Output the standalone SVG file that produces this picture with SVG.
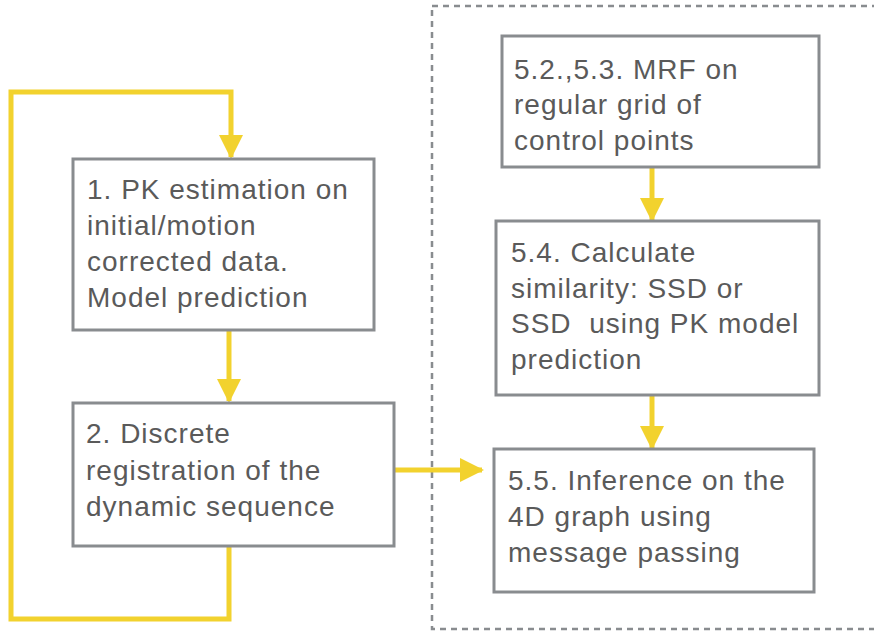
<svg xmlns="http://www.w3.org/2000/svg" width="874" height="634" viewBox="0 0 874 634">
  <style>
    .box { fill: #ffffff; stroke: #898c8f; stroke-width: 3; }
    .lbl { font-family: "Liberation Sans", Arial, sans-serif; font-size: 28px; fill: #5a5a5a; letter-spacing: 1px; }
    .flow { fill: none; stroke: #f2d22e; stroke-width: 5; }
    .frame { fill: none; stroke: #898c8f; stroke-width: 2.5; stroke-dasharray: 6 5; }
  </style>
  <defs>
    <marker id="head" markerUnits="userSpaceOnUse" markerWidth="24" markerHeight="24" refX="22" refY="12" orient="auto">
      <path d="M0,0 L24,12 L0,24 Z" fill="#f2d22e"/>
    </marker>
  </defs>
  <rect width="874" height="634" fill="#ffffff"/>

  <!-- dashed frame around the section 5 steps -->
  <rect class="frame" x="432" y="6" width="460" height="623"/>

  <g id="connectors">
    <!-- feedback loop from step 2 back to step 1 -->
    <polyline class="flow" points="229,546 229,619 11,619 11,92 231,92 231,157" marker-end="url(#head)"/>
    <line class="flow" x1="229" y1="330" x2="229" y2="401" marker-end="url(#head)"/>
    <line class="flow" x1="394" y1="470" x2="482" y2="470" marker-end="url(#head)"/>
    <line class="flow" x1="652" y1="167" x2="652" y2="220" marker-end="url(#head)"/>
    <line class="flow" x1="652" y1="395" x2="652" y2="448" marker-end="url(#head)"/>
  </g>

  <g id="step1">
    <rect class="box" x="73" y="159" width="301" height="171"/>
    <text class="lbl" x="87" y="199">1. PK estimation on</text>
    <text class="lbl" x="87" y="235">initial/motion</text>
    <text class="lbl" x="87" y="271">corrected data.</text>
    <text class="lbl" x="87" y="307">Model prediction</text>
  </g>

  <g id="step2">
    <rect class="box" x="73" y="403" width="321" height="143"/>
    <text class="lbl" x="86" y="443">2. Discrete</text>
    <text class="lbl" x="86" y="480">registration of the</text>
    <text class="lbl" x="86" y="516">dynamic sequence</text>
  </g>

  <g id="step5-2">
    <rect class="box" x="502" y="36" width="317" height="131"/>
    <text class="lbl" x="514" y="79">5.2.,5.3. MRF on</text>
    <text class="lbl" x="514" y="114">regular grid of</text>
    <text class="lbl" x="514" y="150">control points</text>
  </g>

  <g id="step5-4">
    <rect class="box" x="496" y="221" width="323" height="174"/>
    <text class="lbl" x="511" y="262">5.4. Calculate</text>
    <text class="lbl" x="511" y="298">similarity: SSD or</text>
    <text class="lbl" x="511" y="333" xml:space="preserve">SSD  using PK model</text>
    <text class="lbl" x="511" y="369">prediction</text>
  </g>

  <g id="step5-5">
    <rect class="box" x="494" y="449" width="320" height="143"/>
    <text class="lbl" x="508" y="490">5.5. Inference on the</text>
    <text class="lbl" x="508" y="526">4D graph using</text>
    <text class="lbl" x="508" y="562">message passing</text>
  </g>
</svg>
